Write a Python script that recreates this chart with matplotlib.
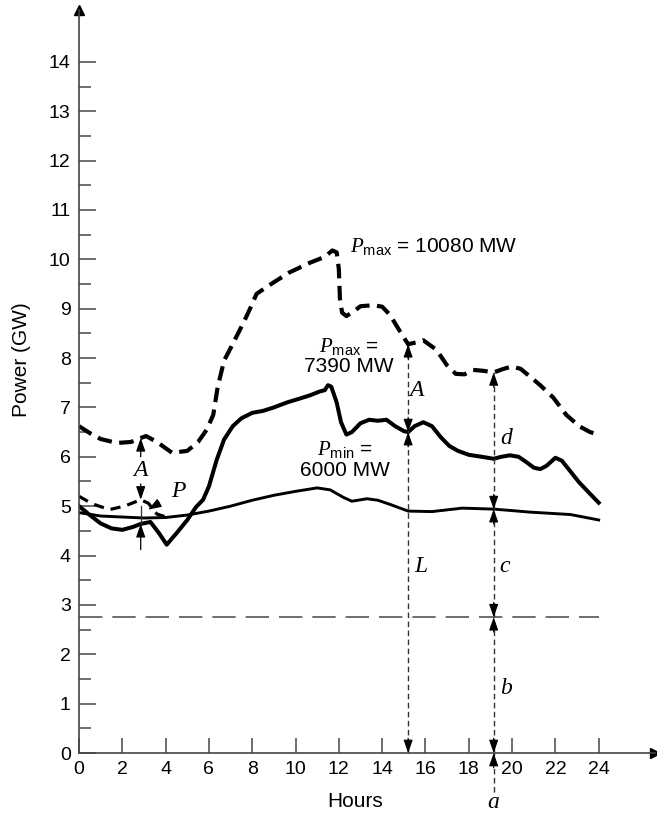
import numpy as np
import matplotlib.pyplot as plt

plt.rcParams['font.family'] = ['Liberation Sans', 'DejaVu Sans']
plt.rcParams['mathtext.fontset'] = 'custom'
plt.rcParams['mathtext.it'] = 'Liberation Serif:italic'
plt.rcParams['mathtext.rm'] = 'Liberation Sans'

# peak-day load (dashed)
peak_hours = [0, 0.5, 1.0, 1.75, 2.4, 2.85, 3.1, 3.6, 4.3, 5.0, 5.5, 5.9, 6.2, 6.4, 6.7,
              7.0, 7.6, 7.9, 8.2, 8.8, 9.7, 10.66, 11.35, 11.7, 11.9, 12.0, 12.05, 12.15,
              12.35, 12.7, 13.0, 13.6, 14.0, 14.35, 14.95, 15.2, 15.6, 15.9, 16.5, 17.0,
              17.4, 17.8, 18.2, 18.7, 19.15, 19.6, 20.0, 20.4, 20.7, 21.3, 21.9, 22.5,
              23.1, 23.6, 24.0]
peak_gw = [6.62, 6.48, 6.36, 6.28, 6.3, 6.38, 6.42, 6.3, 6.08, 6.12, 6.3, 6.55, 6.85, 7.4,
           7.95, 8.2, 8.72, 9.0, 9.3, 9.48, 9.73, 9.93, 10.05, 10.18, 10.14, 9.8, 9.2, 8.92,
           8.85, 8.95, 9.05, 9.07, 9.04, 8.88, 8.45, 8.28, 8.32, 8.36, 8.17, 7.85,
           7.68, 7.67, 7.76, 7.74, 7.71, 7.78, 7.83, 7.78, 7.67, 7.45, 7.2, 6.85,
           6.62, 6.5, 6.45]

# typical-day load (thick solid)
day_hours = [0, 0.5, 1.0, 1.5, 2.0, 2.5, 2.85, 3.3, 3.7, 4.05, 4.5, 5.0, 5.4, 5.73, 6.0,
             6.36, 6.7, 7.1, 7.5, 8.0, 8.5, 9.0, 9.6, 10.2, 10.7, 11.1, 11.35, 11.5, 11.65,
             11.9, 12.1, 12.35, 12.6, 13.0, 13.4, 13.8, 14.2, 14.6, 15.0, 15.2, 15.5,
             15.9, 16.3, 16.7, 17.1, 17.5, 18.0, 18.6, 19.15, 19.5, 19.9, 20.3, 20.7,
             21.0, 21.3, 21.6, 22.0, 22.3, 22.7, 23.1, 23.6, 24.0]
day_gw = [5.0, 4.82, 4.65, 4.55, 4.52, 4.58, 4.64, 4.68, 4.45, 4.22, 4.45, 4.72, 4.98, 5.13,
          5.4, 5.94, 6.35, 6.62, 6.78, 6.89, 6.93, 7.0, 7.1, 7.18, 7.25, 7.32, 7.35, 7.45,
          7.42, 7.1, 6.7, 6.45, 6.5, 6.68, 6.75, 6.73, 6.75, 6.62, 6.52, 6.5, 6.62,
          6.7, 6.62, 6.4, 6.22, 6.12, 6.04, 6.0, 5.96, 6.0, 6.03, 6.0, 5.88,
          5.78, 5.75, 5.82, 5.98, 5.92, 5.7, 5.48, 5.25, 5.07]

# off-peak load early hours (thin dashed)
low_hours = [0, 0.6, 1.4, 2.1, 2.85, 3.2, 3.6, 3.95]
low_gw = [5.2, 5.05, 4.93, 5.0, 5.13, 5.06, 4.84, 4.79]

# base curve (thin solid)
base_hours = [0, 1, 2, 3, 4, 5, 6, 7, 8, 9, 10, 11, 11.6, 12.2, 12.6, 13.3, 13.8, 14.4,
              15.2, 16.3, 17.7, 19.15, 20.0, 20.8, 22.7, 24]
base_gw = [4.87, 4.8, 4.78, 4.76, 4.77, 4.82, 4.9, 5.0, 5.12, 5.22, 5.3, 5.37, 5.33, 5.18,
           5.1, 5.15, 5.12, 5.03, 4.9, 4.89, 4.96, 4.94, 4.91, 4.88, 4.83, 4.72]

base_level = 2.75
hour_A = 15.2
hour_a = 19.15
hour_left = 2.85

fig = plt.figure(figsize=(6.57, 8.14), dpi=100)
ax = fig.add_axes([79 / 657, 61 / 814, 576 / 657, 743 / 814])
ax.set_xlim(0, 26.6)
ax.set_ylim(0, 15.05)

for s in ['top', 'right']:
    ax.spines[s].set_visible(False)
for s in ['left', 'bottom']:
    ax.spines[s].set_color('#444444')
    ax.spines[s].set_linewidth(1.2)
ax.plot(1, 0, '>', transform=ax.transAxes, clip_on=False, color='k', ms=7)
ax.plot(0, 1, '^', transform=ax.transAxes, clip_on=False, color='k', ms=7)

ax.set_xticks(np.arange(0, 25, 2))
ax.set_yticks(np.arange(0, 15, 1))
ax.set_yticks(np.arange(0.5, 14, 1), minor=True)
ax.tick_params(axis='x', direction='in', length=11, width=1.2, color='#555555',
               labelsize=14, pad=6)
ax.tick_params(axis='y', direction='in', length=12, width=1.2, color='#555555',
               labelsize=14, pad=6)
ax.tick_params(axis='y', which='minor', direction='in', length=8.5, width=1.2,
               color='#555555')
ax.set_xlabel('Hours', fontsize=15)
ax.xaxis.set_label_coords(0.479, -0.053)
ax.set_ylabel('Power (GW)', fontsize=15)
ax.yaxis.set_label_coords(-0.099, 0.53)
ax.yaxis.label.set_va('center')

# curves
ax.plot(peak_hours, peak_gw, color='k', lw=3, dashes=(3.5, 1.8), solid_joinstyle='round')
ax.plot(day_hours, day_gw, color='k', lw=2.9, solid_joinstyle='round')
ax.plot(low_hours, low_gw, color='k', lw=2.3, dashes=(3.2, 2.2))
ax.plot(base_hours, base_gw, color='k', lw=2.1)

ax.plot([0, 24], [base_level, base_level], color='#555555', lw=1.2, dashes=(14, 6))

head = dict(arrowstyle='-|>,head_length=0.8,head_width=0.28', color='k', lw=0.8,
            shrinkA=0, shrinkB=0, mutation_scale=10)


def tip(x, y, up):
    # small arrowhead whose point is at (x, y)
    d = 0.3 if up else -0.3
    ax.annotate('', xy=(x, y), xytext=(x, y - d), arrowprops=head, annotation_clip=False)


def span(x, y0, y1):
    ax.plot([x, x], [y0, y1], color='#333333', lw=1, dashes=(4, 2.5), clip_on=False)
    tip(x, y0, False)
    tip(x, y1, True)


pA = np.interp(hour_A, peak_hours, peak_gw)
dA = np.interp(hour_A, day_hours, day_gw)
span(hour_A, dA, pA)
span(hour_A, 0, dA)

pa = np.interp(hour_a, peak_hours, peak_gw)
ba = np.interp(hour_a, base_hours, base_gw)
span(hour_a, ba, pa)
span(hour_a, base_level, ba)
span(hour_a, 0, base_level)
ax.plot([hour_a, hour_a], [-0.8, 0], color='#333333', lw=1, dashes=(4, 2.5), clip_on=False)
tip(hour_a, 0, True)

# left-hand markers
pl = np.interp(hour_left, peak_hours, peak_gw)
ll = np.interp(hour_left, low_hours, low_gw)
dl = np.interp(hour_left, day_hours, day_gw)
arr = dict(arrowstyle='-|>,head_length=0.8,head_width=0.28', color='k', lw=0.9,
           shrinkA=0, shrinkB=0, mutation_scale=10)
ax.annotate('', xy=(hour_left, pl), xytext=(hour_left, 6.0), arrowprops=arr)
ax.annotate('', xy=(hour_left, ll), xytext=(hour_left, 5.45), arrowprops=arr)
ax.plot([hour_left, hour_left], [dl, 5.0], color='#333333', lw=0.9)
ax.annotate('', xy=(hour_left, dl), xytext=(hour_left, 4.12), arrowprops=arr)
ax.text(hour_left, 5.74, '$A$', fontsize=17, ha='center', va='center')
ax.annotate('$P$', xy=(3.2, 4.93), xytext=(4.6, 5.3), fontsize=17,
            ha='center', va='center',
            arrowprops=dict(arrowstyle='-|>,head_length=0.8,head_width=0.28', color='k',
                            lw=0.8, shrinkA=7, shrinkB=0, mutation_scale=10))

# letters
ax.text(15.6, 7.36, '$A$', fontsize=17, ha='center', va='center')
ax.text(15.8, 3.78, '$L$', fontsize=17, ha='center', va='center')
ax.text(19.75, 6.39, '$d$', fontsize=17, ha='center', va='center')
ax.text(19.7, 3.78, '$c$', fontsize=17, ha='center', va='center')
ax.text(19.75, 1.32, '$b$', fontsize=17, ha='center', va='center')
ax.text(hour_a, -1.0, '$a$', fontsize=17, ha='center', va='center', clip_on=False)

ax.text(12.5, 10.25, r'$P_{\rm max}$ = 10080 MW', fontsize=15, ha='left', va='center')
ax.text(12.45, 8.23, r'$P_{\rm max}$ =', fontsize=15, ha='center', va='center')
ax.text(12.45, 7.83, '7390 MW', fontsize=15, ha='center', va='center')
ax.text(12.3, 6.15, r'$P_{\rm min}$ =', fontsize=15, ha='center', va='center')
ax.text(12.3, 5.72, '6000 MW', fontsize=15, ha='center', va='center')

fig.savefig('out.png', dpi=100)
